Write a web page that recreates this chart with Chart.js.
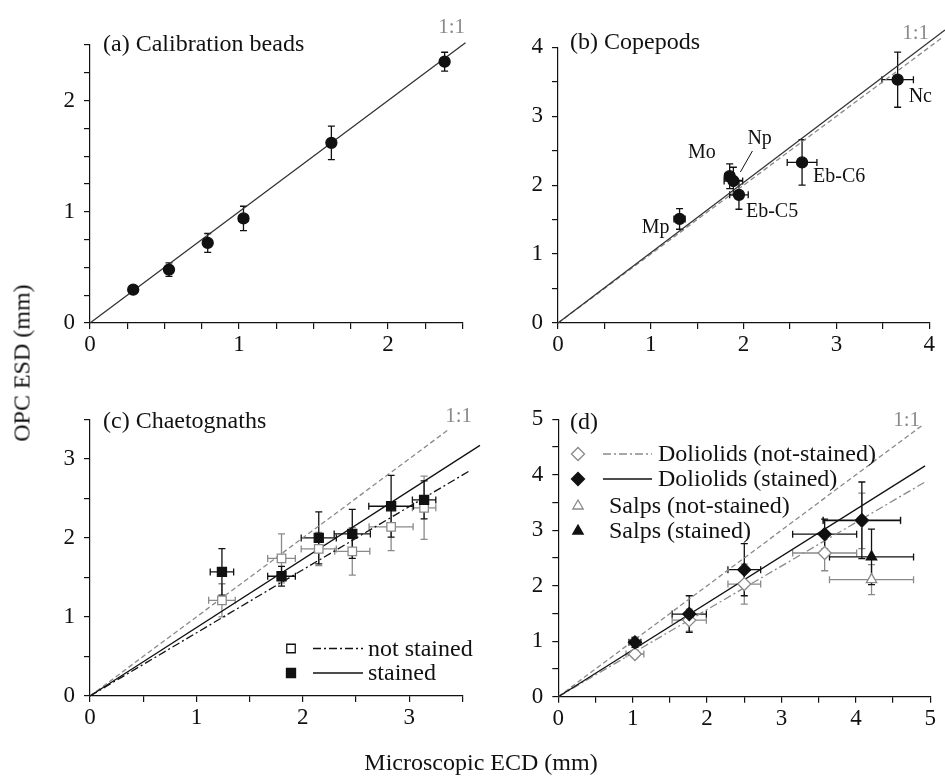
<!DOCTYPE html>
<html>
<head>
<meta charset="utf-8">
<title>OPC ESD vs microscopic ECD</title>
<script src="https://cdn.jsdelivr.net/npm/chart.js@4.4.1/dist/chart.umd.min.js"></script>
<style>
  html, body { margin: 0; padding: 0; background: #fff; }
  #wrap { position: relative; width: 945px; height: 778px; font-family: 'Liberation Serif', 'Times New Roman', serif; color: #111; }
  #wrap canvas { position: absolute; left: 0; top: 0; }
  .axis-title { position: absolute; font-size: 24px; white-space: nowrap; transform: translate(-50%, -50%); }
  #ytitle { left: 22px; top: 363px; transform: translate(-50%, -50%) rotate(-90deg); }
  #xtitle { left: 481px; top: 762px; }
</style>
</head>
<body>
<div id="wrap">
  <canvas id="panelA" width="945" height="778"></canvas>
  <canvas id="panelB" width="945" height="778"></canvas>
  <canvas id="panelC" width="945" height="778"></canvas>
  <canvas id="panelD" width="945" height="778"></canvas>
  <div class="axis-title" id="ytitle">OPC ESD (mm)</div>
  <div class="axis-title" id="xtitle">Microscopic ECD (mm)</div>
</div>
<script>
// (a) calibration beads
const beadEcd = [0.29, 0.53, 0.79, 1.03, 1.62, 2.38];
const beadEsd = [0.30, 0.48, 0.72, 0.94, 1.62, 2.35];
const beadEcdErr = [0, 0, 0, 0.03, 0, 0];
const beadEsdErr = [0.02, 0.06, 0.085, 0.11, 0.15, 0.085];
const beadLine = [[0, 0], [2.52, 2.52]];

// (b) copepods
const copepodNames = ['Mp', 'Mo', 'Np', 'Eb-C5', 'Eb-C6', 'Nc'];
const copepodEcd = [1.31, 1.85, 1.89, 1.95, 2.63, 3.66];
const copepodEsd = [1.51, 2.13, 2.06, 1.86, 2.33, 3.53];
const copepodEcdErr = [0.06, 0.05, 0.1, 0.1, 0.16, 0.17];
const copepodEsdErr = [0.15, 0.18, 0.2, 0.21, 0.33, 0.4];
const copepodLine = [[0, 0], [4.17, 4.25]];
const copepodOneToOne = [[0, 0], [4.15, 4.15]];

// (c) chaetognaths
const chaetoEcd = [1.24, 1.80, 2.15, 2.465, 2.83, 3.14];
const chaetoStainedEsd = [1.57, 1.515, 2.00, 2.05, 2.40, 2.48];
const chaetoStainedEsdErr = [0.295, 0.125, 0.33, 0.31, 0.39, 0.24];
const chaetoStainedEcdErr = [0.11, 0.13, 0.165, 0.17, 0.21, 0.11];
const chaetoPlainEsd = [1.21, 1.74, 1.86, 1.83, 2.14, 2.38];
const chaetoPlainEsdErr = [0.21, 0.31, 0.21, 0.30, 0.30, 0.40];
const chaetoPlainEcdErr = [0.125, 0.13, 0.165, 0.165, 0.207, 0.11];
const chaetoOneToOne = [[0, 0], [3.37, 3.37]];
const chaetoStainedFit = [[0, 0], [3.665, 3.17]];
const chaetoPlainFit = [[0, 0], [3.57, 2.85]];

// (d) doliolids and salps
const dolEcd = [1.03, 1.76, 2.50, 3.58, 4.08];
const dolStainedEsd = [0.98, 1.49, 2.29, 2.93, 3.18];
const dolStainedEsdErr = [0.09, 0.33, 0.47, 0.27, 0.69];
const dolStainedEcdErr = [0.08, 0.23, 0.22, 0.43, 0.52];
const dolPlainEsd = [0.77, 1.38, 2.03, 2.59, 3.17];
const dolPlainEsdErr = [0.06, 0.2, 0.36, 0.32, 0.5];
const dolPlainEcdErr = [0.12, 0.23, 0.22, 0.43, 0.52];
const salpEcd = [4.21];
const salpStainedEsd = [2.52];
const salpStainedEsdErr = [0.5];
const salpPlainEsd = [2.11];
const salpPlainEsdErr = [0.27];
const salpEcdErr = [0.565];
const dolOneToOne = [[0, 0], [4.9, 4.9]];
const dolStainedFit = [[0, 0], [4.93, 4.16]];
const dolPlainFit = [[0, 0], [4.93, 3.87]];

const FONT = "'Liberation Serif', 'Times New Roman', serif";
const INK = '#111';
const GRAY = '#8a8a8a';
const DASH = [5, 3];
const DASH_DOT = [8, 3, 2, 3];

function pts(xs, ys) { return xs.map((x, i) => ({ x: x, y: ys[i] })); }
function seg(ends) { return ends.map(p => ({ x: p[0], y: p[1] })); }

function markers(xs, ys, ex, ey, style, color, fill, r, order) {
  return {
    data: pts(xs, ys), errX: ex, errY: ey, barColor: color,
    pointStyle: style, pointRadius: r, pointHoverRadius: r, pointBorderWidth: 1.3,
    borderColor: color, backgroundColor: fill, order: order
  };
}

function fitLine(ends, color, dash, order) {
  return {
    data: seg(ends), showLine: true, pointRadius: 0, pointHoverRadius: 0,
    borderColor: color, borderWidth: 1.3, borderDash: dash, clip: false, order: order
  };
}

function axisOpts(max, step, isY) {
  return {
    type: 'linear', min: 0, max: max,
    afterFit: s => { if (isY) s.width = 62; else s.height = 40; },
    border: { display: true, color: INK, width: 1.2 },
    grid: { drawOnChartArea: false, drawTicks: true, tickLength: 6, color: INK, lineWidth: 1.2 },
    ticks: {
      stepSize: step, autoSkip: false, maxRotation: 0, padding: isY ? 9 : 2, color: INK,
      font: { family: FONT, size: 23 },
      callback: v => Number.isInteger(v) ? String(v) : ''
    }
  };
}

// whiskers are drawn under the markers, grey series first
const errorBars = {
  id: 'errorBars',
  beforeDatasetsDraw(chart) {
    const ctx = chart.ctx, x = chart.scales.x, y = chart.scales.y;
    const sets = chart.data.datasets.filter(d => d.errX || d.errY)
      .sort((a, b) => (b.order || 0) - (a.order || 0));
    const cap = 3.5;
    ctx.save();
    ctx.lineWidth = 1.3;
    sets.forEach(d => {
      ctx.strokeStyle = d.barColor;
      d.data.forEach((p, k) => {
        const px = x.getPixelForValue(p.x), py = y.getPixelForValue(p.y);
        const ey = d.errY ? d.errY[k] : 0, ex = d.errX ? d.errX[k] : 0;
        ctx.beginPath();
        if (ey) {
          const t = y.getPixelForValue(p.y + ey), b = y.getPixelForValue(p.y - ey);
          ctx.moveTo(px, t); ctx.lineTo(px, b);
          ctx.moveTo(px - cap, t); ctx.lineTo(px + cap, t);
          ctx.moveTo(px - cap, b); ctx.lineTo(px + cap, b);
        }
        if (ex) {
          const l = x.getPixelForValue(p.x - ex), r = x.getPixelForValue(p.x + ex);
          ctx.moveTo(l, py); ctx.lineTo(r, py);
          ctx.moveTo(l, py - cap); ctx.lineTo(l, py + cap);
          ctx.moveTo(r, py - cap); ctx.lineTo(r, py + cap);
        }
        ctx.stroke();
      });
    });
    ctx.restore();
  }
};

// panel title, 1:1 tag, point names and in-plot legends
const decor = {
  id: 'decor',
  afterDraw(chart, args, o) {
    const ctx = chart.ctx;
    ctx.save();
    ctx.textBaseline = 'middle';
    ctx.font = '24px ' + FONT;
    ctx.fillStyle = INK;
    ctx.textAlign = 'left';
    ctx.fillText(o.title[0], o.title[1], o.title[2]);

    ctx.font = '21px ' + FONT;
    ctx.fillStyle = GRAY;
    ctx.textAlign = 'right';
    ctx.fillText('1:1', o.ratio[0], o.ratio[1]);

    if (o.names) {
      const meta = chart.getDatasetMeta(o.names.dataset);
      ctx.font = '20px ' + FONT;
      ctx.fillStyle = INK;
      o.names.text.forEach((t, i) => {
        const el = meta.data[i], off = o.names.offsets[i];
        ctx.textAlign = off[2];
        ctx.fillText(t, el.x + off[0], el.y + off[1]);
        if (off[3]) {
          ctx.strokeStyle = INK;
          ctx.lineWidth = 1;
          ctx.beginPath();
          ctx.moveTo(el.x + off[3][0], el.y + off[3][1]);
          ctx.lineTo(el.x + off[3][2], el.y + off[3][3]);
          ctx.stroke();
        }
      });
    }

    if (o.legend) {
      ctx.font = '24px ' + FONT;
      ctx.textAlign = 'left';
      o.legend.forEach(row => {
        const m = row.marker;
        ctx.fillStyle = m.fill;
        ctx.strokeStyle = m.color;
        ctx.lineWidth = 1.3;
        Chart.helpers.drawPoint(ctx, { pointStyle: m.style, radius: m.r, rotation: 0, borderWidth: 1.3 }, row.mx, row.y);
        if (row.line) {
          ctx.strokeStyle = row.line.color;
          ctx.setLineDash(row.line.dash);
          ctx.lineWidth = 1.3;
          ctx.beginPath();
          ctx.moveTo(row.line.x0, row.y);
          ctx.lineTo(row.line.x1, row.y);
          ctx.stroke();
          ctx.setLineDash([]);
        }
        ctx.fillStyle = INK;
        ctx.fillText(row.text, row.tx, row.y + 1);
      });
    }
    ctx.restore();
  }
};

function makePanel(id, box, xAxis, yAxis, datasets, decorOpts) {
  return new Chart(document.getElementById(id), {
    type: 'scatter',
    data: { datasets: datasets },
    options: {
      responsive: false, animation: false, events: [],
      layout: { padding: { left: box[0] - 62, top: box[1], right: 945 - box[2], bottom: 778 - box[3] - 40 } },
      scales: { x: xAxis, y: yAxis },
      plugins: { legend: { display: false }, tooltip: { enabled: false }, decor: decorOpts }
    },
    plugins: [errorBars, decor]
  });
}

makePanel('panelA', [90, 45, 462.5, 323],
  axisOpts(2.5, 0.25, false), axisOpts(2.5, 0.25, true),
  [
    markers(beadEcd, beadEsd, beadEcdErr, beadEsdErr, 'circle', INK, INK, 5.5, 0),
    fitLine(beadLine, '#333', [], 2)
  ],
  { title: ['(a) Calibration beads', 103, 45], ratio: [465, 27] });

makePanel('panelB', [558, 47.3, 929.2, 323],
  axisOpts(4, 0.5, false), axisOpts(4, 0.5, true),
  [
    markers(copepodEcd, copepodEsd, copepodEcdErr, copepodEsdErr, 'circle', INK, INK, 5.5, 0),
    fitLine(copepodOneToOne, GRAY, DASH, 3),
    fitLine(copepodLine, '#333', [], 2)
  ],
  {
    title: ['(b) Copepods', 570, 43], ratio: [929, 33],
    names: {
      dataset: 0, text: copepodNames,
      offsets: [
        [-10, 9, 'right'],
        [-14, -23, 'right'],
        [14, -42, 'left', [19, -30, 7, -9]],
        [7, 17, 'left'],
        [11, 14, 'left'],
        [11, 17, 'left']
      ]
    }
  });

makePanel('panelC', [90, 419.3, 462.4, 696],
  axisOpts(3.5, 0.5, false), axisOpts(3.5, 0.5, true),
  [
    markers(chaetoEcd, chaetoStainedEsd, chaetoStainedEcdErr, chaetoStainedEsdErr, 'rect', INK, INK, 6.4, 0),
    markers(chaetoEcd, chaetoPlainEsd, chaetoPlainEcdErr, chaetoPlainEsdErr, 'rect', GRAY, '#fff', 6, 1),
    fitLine(chaetoStainedFit, INK, [], 2),
    fitLine(chaetoPlainFit, INK, DASH_DOT, 3),
    fitLine(chaetoOneToOne, GRAY, DASH, 4)
  ],
  {
    title: ['(c) Chaetognaths', 103, 421.7], ratio: [472, 416],
    legend: [
      { marker: { style: 'rect', r: 6, color: INK, fill: '#fff' }, mx: 291, y: 648.5,
        line: { x0: 313, x1: 363, color: INK, dash: DASH_DOT }, text: 'not stained', tx: 368 },
      { marker: { style: 'rect', r: 6.4, color: INK, fill: INK }, mx: 291, y: 673,
        line: { x0: 313, x1: 363, color: INK, dash: [] }, text: 'stained', tx: 368 }
    ]
  });

makePanel('panelD', [558.3, 419.3, 930.3, 696.7],
  axisOpts(5, 0.5, false), axisOpts(5, 0.5, true),
  [
    markers(dolEcd, dolStainedEsd, dolStainedEcdErr, dolStainedEsdErr, 'rectRot', INK, INK, 6.5, 0),
    markers(salpEcd, salpStainedEsd, salpEcdErr, salpStainedEsdErr, 'triangle', INK, INK, 6, 0),
    markers(dolEcd, dolPlainEsd, dolPlainEcdErr, dolPlainEsdErr, 'rectRot', GRAY, '#fff', 6.5, 1),
    markers(salpEcd, salpPlainEsd, salpEcdErr, salpPlainEsdErr, 'triangle', GRAY, '#fff', 6, 1),
    fitLine(dolStainedFit, INK, [], 2),
    fitLine(dolPlainFit, GRAY, DASH_DOT, 3),
    fitLine(dolOneToOne, GRAY, DASH, 4)
  ],
  {
    title: ['(d)', 570, 422.3], ratio: [920, 420],
    legend: [
      { marker: { style: 'rectRot', r: 6.5, color: GRAY, fill: '#fff' }, mx: 578, y: 454,
        line: { x0: 603, x1: 652, color: GRAY, dash: DASH_DOT }, text: 'Doliolids (not-stained)', tx: 658 },
      { marker: { style: 'rectRot', r: 6.5, color: INK, fill: INK }, mx: 578, y: 479,
        line: { x0: 603, x1: 652, color: INK, dash: [] }, text: 'Doliolids (stained)', tx: 658 },
      { marker: { style: 'triangle', r: 6, color: GRAY, fill: '#fff' }, mx: 578, y: 506,
        text: 'Salps (not-stained)', tx: 609 },
      { marker: { style: 'triangle', r: 6, color: INK, fill: INK }, mx: 578, y: 531,
        text: 'Salps (stained)', tx: 609 }
    ]
  });
</script>
</body>
</html>
